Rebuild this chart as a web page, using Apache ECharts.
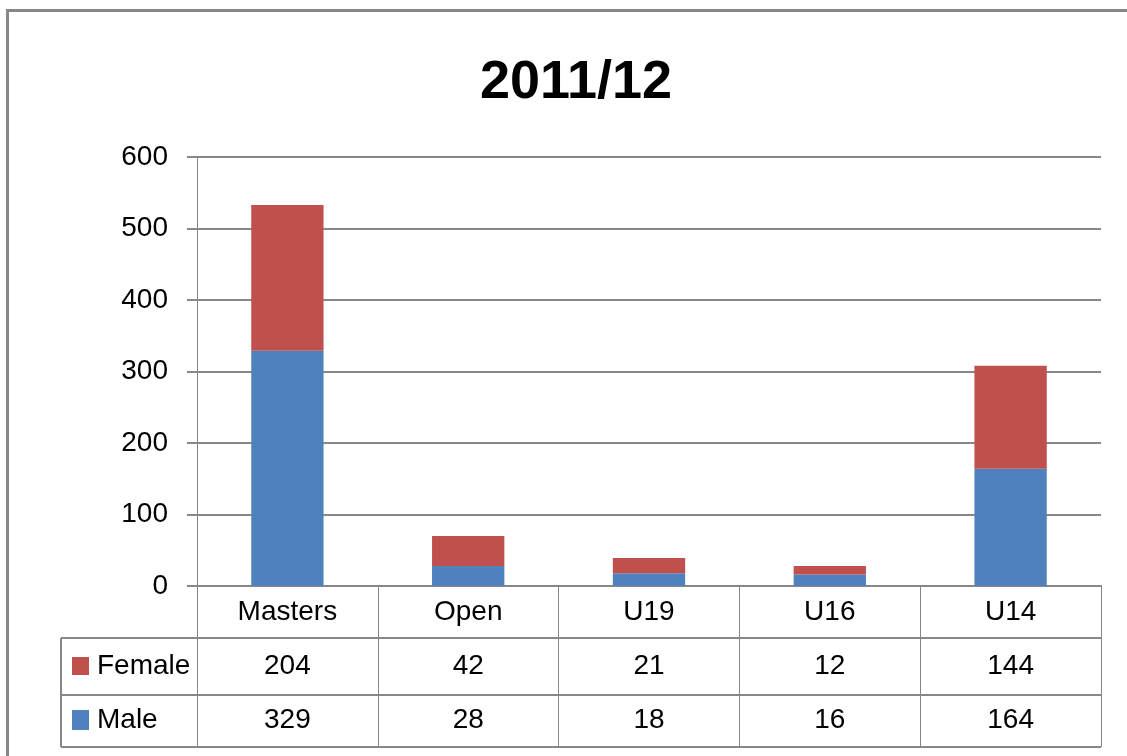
<!DOCTYPE html>
<html>
<head>
<meta charset="utf-8">
<title>2011/12</title>
<script src="https://cdn.jsdelivr.net/npm/echarts@6/dist/echarts.min.js"></script>
<style>
  html, body { margin: 0; padding: 0; background: #fff; }
  #main { width: 1127px; height: 756px; }
</style>
</head>
<body>
<div id="main"></div>
<script>
  // data
  const categories = ['Masters', 'Open', 'U19', 'U16', 'U14'];
  const female = [204, 42, 21, 12, 144];
  const male = [329, 28, 18, 16, 164];
  const yTicks = [0, 100, 200, 300, 400, 500, 600];

  const FONT = '"Liberation Sans", Arial, sans-serif';
  const LINE = '#878787';
  const BLUE = '#4f81bd';
  const RED = '#c0504d';

  const chart = echarts.init(document.getElementById('main'));

  const option = {
    animation: false,
    title: {
      text: '2011/12',
      left: 571,
      top: 78,
      textAlign: 'center',
      textVerticalAlign: 'middle',
      textStyle: { fontFamily: FONT, fontSize: 54, fontWeight: 'bold', color: '#000' }
    },
    grid: { left: 197, right: 26, top: 157, bottom: 170, containLabel: false },
    xAxis: {
      type: 'category',
      data: categories,
      axisLine: { lineStyle: { color: LINE, width: 2 } },
      axisTick: { show: true, alignWithLabel: false, length: 161, lineStyle: { color: LINE, width: 1 } },
      axisLabel: { show: false }
    },
    yAxis: {
      type: 'value',
      min: yTicks[0],
      max: yTicks[yTicks.length - 1],
      interval: 100,
      axisLine: { show: true, lineStyle: { color: LINE, width: 1 } },
      axisTick: { show: true, length: 10, lineStyle: { color: LINE, width: 2 } },
      axisLabel: { margin: 29, fontFamily: FONT, fontSize: 28, color: '#000' },
      splitLine: { lineStyle: { color: LINE, width: 2 } }
    },
    series: [
      { name: 'Male', type: 'bar', stack: 'total', data: male, barWidth: '40%', itemStyle: { color: BLUE } },
      { name: 'Female', type: 'bar', stack: 'total', data: female, barWidth: '40%', itemStyle: { color: RED } }
    ]
  };
  chart.setOption(option);

  // data table under the plot
  const rowCat = 612, rowFemale = 666, rowMale = 720;
  const tableLeft = 61, tableRight = 1101;
  const g = [];
  // outer chart border
  g.push({ type: 'rect', shape: { x: 7.5, y: 10.5, width: 1200, height: 800 }, style: { fill: 'none', stroke: LINE, lineWidth: 3 } });
  // horizontal table rules
  [638, 695, 747].forEach(y => {
    g.push({ type: 'line', shape: { x1: tableLeft, y1: y, x2: tableRight, y2: y }, style: { stroke: LINE, lineWidth: 2 } });
  });
  g.push({ type: 'line', shape: { x1: tableLeft, y1: 638, x2: tableLeft, y2: 747 }, style: { stroke: LINE, lineWidth: 2 } });

  const txt = (x, y, s, align) => ({
    type: 'text', x: x, y: y,
    style: { text: s, fontFamily: FONT, fontSize: 28, fill: '#000', align: align || 'center', verticalAlign: 'middle' }
  });
  categories.forEach((c, i) => {
    const cx = chart.convertToPixel({ xAxisIndex: 0 }, c);
    g.push(txt(cx, rowCat, c));
    g.push(txt(cx, rowFemale, String(female[i])));
    g.push(txt(cx, rowMale, String(male[i])));
  });
  // legend keys in the row headers
  g.push({ type: 'rect', shape: { x: 72, y: rowFemale - 9, width: 17, height: 18 }, style: { fill: RED } });
  g.push(txt(97, rowFemale, 'Female', 'left'));
  g.push({ type: 'rect', shape: { x: 72, y: rowMale - 10, width: 17, height: 20 }, style: { fill: BLUE } });
  g.push(txt(97, rowMale, 'Male', 'left'));

  chart.setOption({ graphic: g });
</script>
</body>
</html>
